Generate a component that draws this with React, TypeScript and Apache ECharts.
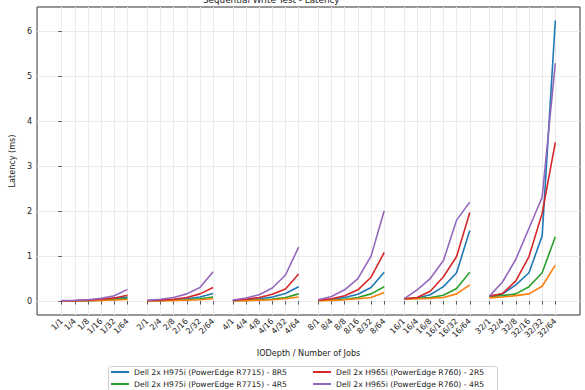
import React, { useEffect, useRef } from "react";
import * as echarts from "echarts";

const ioDepths = ["1", "2", "4", "8", "16", "32"];
const jobCounts = ["1", "4", "8", "16", "32", "64"];
const yTicks = [0, 1, 2, 3, 4, 5, 6];

const seriesNames = [
  "Dell 2x H975i (PowerEdge R7715) - 8R5",
  "Dell 2x H975i (PowerEdge R7715) - 4R5",
  "Dell 2x H975i (PowerEdge R7715) - 2R5",
  "Dell 2x H965i (PowerEdge R760) - 2R5",
  "Dell 2x H965i (PowerEdge R760) - 4R5",
];
const seriesColors = ["#1f77b4", "#2ca02c", "#ff7f0e", "#d62728", "#9467bd"];

// values per IODepth group (6 jobs each)
const blue8R5 = [
  0.005, 0.008, 0.015, 0.03, 0.05, 0.09,
  0.008, 0.015, 0.03, 0.05, 0.09, 0.17,
  0.01, 0.03, 0.05, 0.09, 0.17, 0.32,
  0.02, 0.04, 0.08, 0.15, 0.3, 0.64,
  0.04, 0.07, 0.14, 0.32, 0.63, 1.57,
  0.1, 0.16, 0.36, 0.63, 1.45, 6.24,
];
const green4R5 = [
  0.004, 0.006, 0.01, 0.02, 0.035, 0.06,
  0.006, 0.01, 0.02, 0.03, 0.05, 0.09,
  0.01, 0.015, 0.025, 0.045, 0.08, 0.16,
  0.015, 0.02, 0.04, 0.08, 0.16, 0.32,
  0.05, 0.06, 0.08, 0.13, 0.28, 0.64,
  0.1, 0.12, 0.16, 0.32, 0.63, 1.43,
];
const orange2R5 = [
  0.003, 0.005, 0.008, 0.014, 0.022, 0.035,
  0.005, 0.008, 0.012, 0.02, 0.03, 0.05,
  0.008, 0.01, 0.02, 0.03, 0.05, 0.09,
  0.01, 0.015, 0.03, 0.05, 0.08, 0.19,
  0.04, 0.05, 0.06, 0.08, 0.16, 0.36,
  0.07, 0.09, 0.12, 0.16, 0.33, 0.8,
];
const red2R5 = [
  0.005, 0.01, 0.02, 0.04, 0.07, 0.13,
  0.01, 0.02, 0.04, 0.08, 0.16, 0.3,
  0.015, 0.04, 0.08, 0.15, 0.27, 0.6,
  0.02, 0.05, 0.12, 0.25, 0.53, 1.08,
  0.05, 0.08, 0.22, 0.54, 0.99, 1.97,
  0.11, 0.17, 0.45, 0.99, 1.95, 3.53,
];
const purple4R5 = [
  0.01, 0.015, 0.03, 0.06, 0.12, 0.26,
  0.015, 0.04, 0.08, 0.16, 0.3, 0.65,
  0.02, 0.07, 0.14, 0.29, 0.58, 1.2,
  0.03, 0.1, 0.25, 0.5, 1.0, 2.01,
  0.05, 0.25, 0.5, 0.9, 1.8, 2.2,
  0.11, 0.43, 0.93, 1.62, 2.31, 5.29,
];
const seriesValues = [blue8R5, green4R5, orange2R5, red2R5, purple4R5];

const GROUP_STEP = 6.5;
const positions: number[] = [];
const labels: string[] = [];
ioDepths.forEach((d, g) => {
  jobCounts.forEach((j, k) => {
    positions.push(g * GROUP_STEP + k);
    labels.push(`${d}/${j}`);
  });
});
const labelMap = new Map<string, string>();
positions.forEach((p, i) => labelMap.set(p.toFixed(2), labels[i]));

function buildData(values: number[]) {
  const out: any[] = [];
  ioDepths.forEach((_, g) => {
    jobCounts.forEach((_, k) => {
      const i = g * jobCounts.length + k;
      out.push([positions[i], values[i]]);
    });
    if (g < ioDepths.length - 1) out.push([g * GROUP_STEP + 5.75, "-"]);
  });
  return out;
}

const FONT = "DejaVu Sans";

// legend slots: [series index, left, top]
const legendSlots: [number, number, number][] = [
  [0, 111, 367],
  [3, 313, 367],
  [1, 111, 379],
  [4, 313, 379],
];

export default function App() {
  const ref = useRef<HTMLDivElement>(null);
  useEffect(() => {
    if (!ref.current) return;
    const chart = echarts.init(ref.current, null, { renderer: "svg" });
    const span = positions[positions.length - 1] - positions[0];
    const xMin = positions[0] - 0.05 * span;
    const xMax = positions[positions.length - 1] + 0.05 * span;
    chart.setOption({
      animation: false,
      backgroundColor: "#fff",
      textStyle: { fontFamily: FONT },
      title: {
        text: "Sequential Write Test - Latency",
        left: 203,
        top: -5,
        padding: 0,
        textStyle: { fontSize: 8.8, fontFamily: FONT, color: "#222", fontWeight: "normal" },
      },
      grid: {
        left: 28,
        right: 5,
        top: 7,
        bottom: 75,
        show: true,
        borderColor: "#333",
        borderWidth: 1,
        backgroundColor: "transparent",
      },
      graphic: [
        {
          type: "rect",
          shape: { x: 108.5, y: 366.5, width: 389, height: 40, r: 3 },
          style: { fill: "#fff", stroke: "#d0d0d0", lineWidth: 1 },
          z: 1,
        },
      ],
      legend: legendSlots.map(([si, left, top]) => ({
        orient: "horizontal",
        left,
        top,
        padding: 0,
        itemGap: 0,
        itemWidth: 18,
        itemHeight: 2,
        icon: "rect",
        data: [seriesNames[si]],
        textStyle: { fontSize: 7.7, fontFamily: FONT, color: "#222", lineHeight: 10 },
        z: 5,
      })),
      xAxis: {
        type: "value",
        min: xMin,
        max: xMax,
        name: "IODepth / Number of Jobs",
        nameLocation: "middle",
        nameGap: 34,
        nameTextStyle: { fontSize: 8.1, fontFamily: FONT, color: "#222" },
        axisLine: { show: false },
        axisTick: {
          show: true,
          length: 3.5,
          customValues: positions,
          lineStyle: { color: "#333", width: 0.8 },
        },
        axisLabel: {
          customValues: positions,
          rotate: 45,
          fontSize: 8,
          fontFamily: FONT,
          color: "#222",
          margin: 5,
          formatter: (v: number) => labelMap.get(v.toFixed(2)) ?? "",
        },
        splitLine: { show: true, lineStyle: { color: "#ebebeb", width: 1 } },
      },
      yAxis: {
        type: "value",
        min: -0.31,
        max: 6.54,
        name: "Latency (ms)",
        nameLocation: "middle",
        nameGap: 19,
        nameTextStyle: { fontSize: 8.1, fontFamily: FONT, color: "#222" },
        axisLine: { show: false },
        axisTick: {
          show: true,
          length: 3.5,
          customValues: yTicks,
          lineStyle: { color: "#333", width: 0.8 },
        },
        axisLabel: {
          customValues: yTicks,
          fontSize: 8.1,
          fontFamily: FONT,
          color: "#222",
          margin: 5,
        },
        splitLine: { show: true, lineStyle: { color: "#ebebeb", width: 1 } },
      },
      series: seriesNames.map((name, i) => ({
        name,
        type: "line",
        data: buildData(seriesValues[i]),
        symbol: "none",
        connectNulls: false,
        color: seriesColors[i],
        lineStyle: { width: 1.6, color: seriesColors[i] },
        z: 2 + i,
      })),
    });
    return () => chart.dispose();
  }, []);
  return (
    <div
      ref={ref}
      style={{ position: "absolute", left: 0, top: 0, width: 585, height: 390 }}
    />
  );
}
